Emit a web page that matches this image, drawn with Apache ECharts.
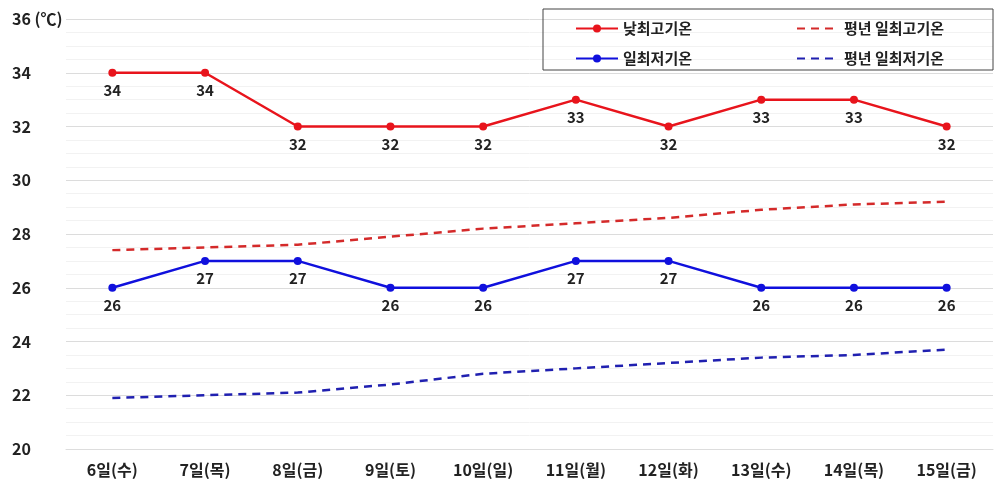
<!DOCTYPE html>
<html>
<head>
<meta charset="utf-8">
<script src="https://cdn.jsdelivr.net/npm/echarts@6/dist/echarts.min.js"></script>
<style>
  html, body { margin: 0; padding: 0; background: #fff; }
  #chart { width: 997px; height: 486px; }
</style>
</head>
<body>
<div id="chart"></div>
<script>
const days = ['6일(수)', '7일(목)', '8일(금)', '9일(토)', '10일(일)', '11일(월)', '12일(화)', '13일(수)', '14일(목)', '15일(금)'];
const dayMax = [34, 34, 32, 32, 32, 33, 32, 33, 33, 32];
const dayMin = [26, 27, 27, 26, 26, 27, 27, 26, 26, 26];
const normMax = [27.4, 27.5, 27.6, 27.9, 28.2, 28.4, 28.6, 28.9, 29.1, 29.2];
const normMin = [21.9, 22.0, 22.1, 22.4, 22.8, 23.0, 23.2, 23.4, 23.5, 23.7];

const font = 'Noto Sans CJK KR';
const red = '#e8141c';
const blue = '#1010dd';

const chart = echarts.init(document.getElementById('chart'), null, { renderer: 'canvas' });

const label = {
  show: true, position: 'bottom', distance: 6,
  color: '#222', fontSize: 15, fontWeight: 'bold', fontFamily: font
};
const legendText = { color: '#222', fontSize: 15, fontWeight: 'bold', fontFamily: font };

chart.setOption({
  backgroundColor: '#fff',
  animation: false,
  grid: { left: 66, right: 4, top: 19, bottom: 37 },
  graphic: [{
    type: 'rect',
    shape: { x: 543, y: 9, width: 450, height: 61 },
    style: { fill: 'none', stroke: '#444', lineWidth: 1 },
    z: 1
  }],
  legend: [{
    data: ['낮최고기온', { name: '평년 일최고기온', itemStyle: { opacity: 0 } }],
    left: 570, top: 16, itemWidth: 42, itemHeight: 10, itemGap: 104,
    textStyle: legendText
  }, {
    data: ['일최저기온', { name: '평년 일최저기온', itemStyle: { opacity: 0 } }],
    left: 570, top: 46, itemWidth: 42, itemHeight: 10, itemGap: 104,
    textStyle: legendText
  }],
  xAxis: {
    type: 'category',
    data: days,
    boundaryGap: true,
    axisLine: { show: true, lineStyle: { color: '#ddd' } },
    axisTick: { show: false },
    axisLabel: { margin: 13, color: '#222', fontSize: 16, fontWeight: 'bold', fontFamily: font }
  },
  yAxis: {
    type: 'value',
    min: 20, max: 36, interval: 2,
    axisLine: { show: false },
    axisTick: { show: false },
    axisLabel: {
      align: 'left', margin: 54, color: '#222', fontSize: 16, fontWeight: 'bold', fontFamily: font,
      formatter: v => v === 36 ? '36 (℃)' : String(v)
    },
    splitLine: { lineStyle: { color: '#dcdcdc' } },
    minorTick: { show: false, splitNumber: 4 },
    minorSplitLine: { show: true, lineStyle: { color: '#f2f2f2' } }
  },
  series: [{
    name: '낮최고기온', type: 'line', data: dayMax,
    color: red, symbol: 'circle', symbolSize: 8,
    lineStyle: { width: 2.5, color: red },
    label: label, z: 5
  }, {
    name: '평년 일최고기온', type: 'line', data: normMax,
    color: '#d42a2a', symbol: 'none',
    lineStyle: { width: 2.5, type: [8, 6], color: '#d42a2a' }
  }, {
    name: '일최저기온', type: 'line', data: dayMin,
    color: blue, symbol: 'circle', symbolSize: 8,
    lineStyle: { width: 2.5, color: blue },
    label: label, z: 5
  }, {
    name: '평년 일최저기온', type: 'line', data: normMin,
    color: '#2020b0', symbol: 'none',
    lineStyle: { width: 2.5, type: [8, 6], color: '#2020b0' }
  }]
});
</script>
</body>
</html>
